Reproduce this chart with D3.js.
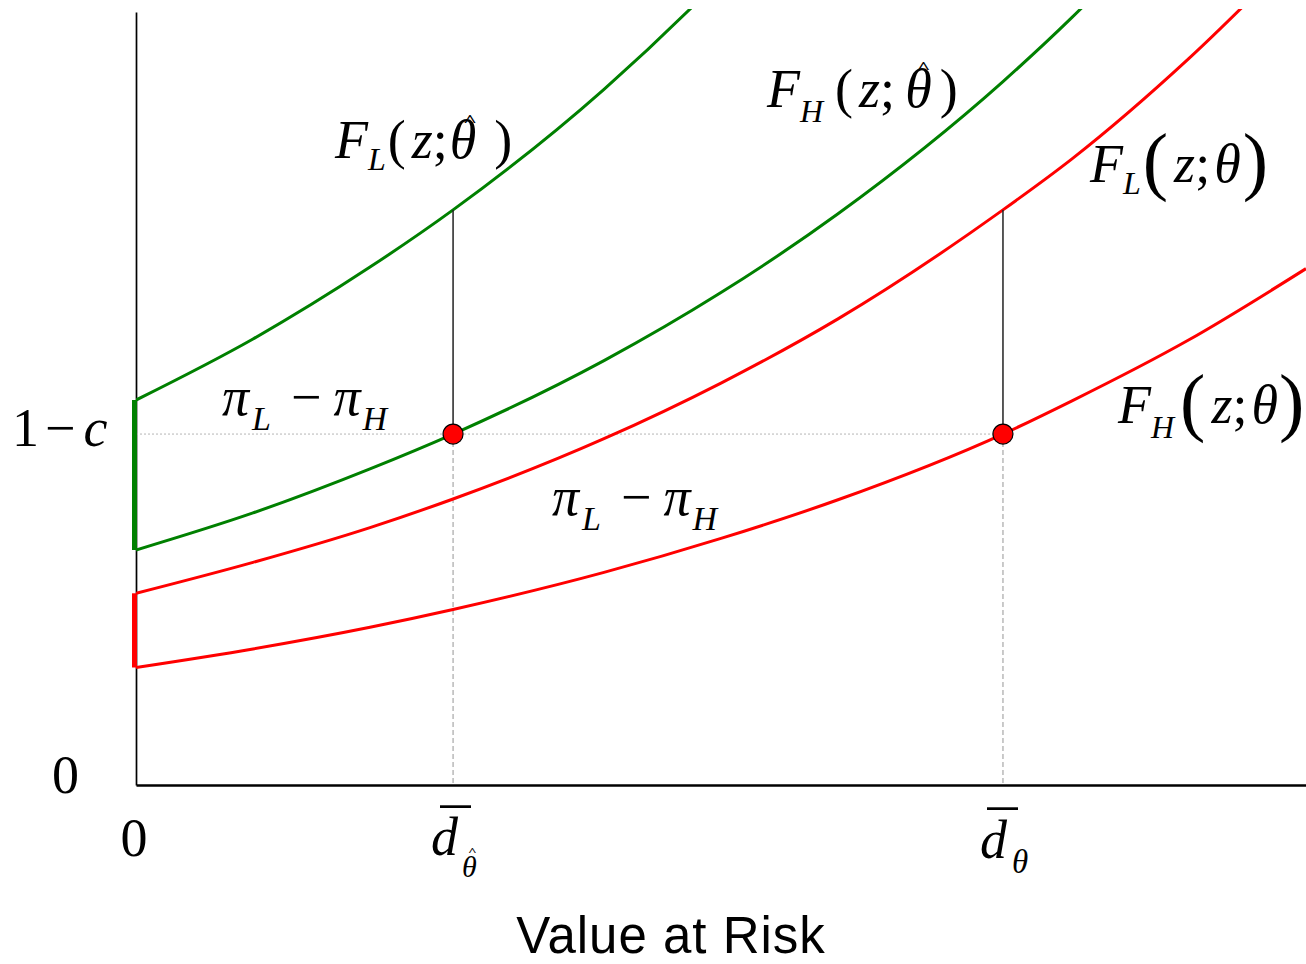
<!DOCTYPE html>
<html>
<head>
<meta charset="utf-8">
<script src="https://cdn.jsdelivr.net/npm/d3@7"></script>
<style>
  html, body { margin: 0; padding: 0; background: #fff; }
  svg { display: block; }
</style>
</head>
<body>
<svg id="chart" width="1306" height="964"></svg>
<script>
// Sample points along the value-at-risk axis (z)
const zSample = [0, 10, 20, 27.1, 40, 50, 60, 74.1, 80, 90, 100];

// Distribution curves (null = beyond the top of the plot)
const FL_hat = [49.8, 57.7, 67.0, 74.4, 90.0, 104.4, 121.0, null, null, null, null];
const FH_hat = [30.4, 35.2, 40.9, 45.4, 54.9, 63.7, 73.9, 91.0, 99.3, 115.2, null];
const FL_theta = [24.8, 28.8, 33.3, 37.0, 44.8, 52.0, 60.3, 74.4, 81.0, 94.0, 108.9];
const FH_theta = [15.2, 17.6, 20.4, 22.7, 27.5, 31.9, 36.9, 45.4, 49.7, 57.6, 66.8];

// Thresholds
const dHat = 27.1;
const dTheta = 74.1;
const oneMinusC = 45.4;

const xTickValues = [0, dHat, dTheta];
const yTickValues = [0, oneMinusC];

const GREEN = "#008000";
const RED = "#ff0000";
const SERIF = "'Liberation Serif', 'Times New Roman', serif";
const SANS = "'Liberation Sans', Arial, sans-serif";

const svg = d3.select("#chart");
const x = d3.scaleLinear().domain([0, 100]).range([136, 1306]);
const y = d3.scaleLinear().domain([0, 100]).range([785, 12]);

svg.append("defs").append("clipPath").attr("id", "plot-clip")
  .append("rect").attr("x", x(0)).attr("y", 9)
  .attr("width", x(100) - x(0)).attr("height", y(0) - 9);

// Axes (lines only)
svg.append("g").attr("transform", `translate(0,${y(0)})`)
  .call(d3.axisBottom(x).tickValues([]).tickSizeOuter(0))
  .call(g => g.select(".domain").attr("stroke", "#000").attr("stroke-width", 2.3));
svg.append("g").attr("transform", `translate(${x(0)},0)`)
  .call(d3.axisLeft(y).tickValues([]).tickSizeOuter(0))
  .call(g => g.select(".domain").attr("stroke", "#000").attr("stroke-width", 1.7));

// Guide lines
svg.append("line")
  .attr("x1", x(0)).attr("x2", x(dTheta))
  .attr("y1", y(oneMinusC)).attr("y2", y(oneMinusC))
  .attr("stroke", "#b5b5b5").attr("stroke-width", 1).attr("stroke-dasharray", "2,2");
svg.selectAll(".vguide").data([dHat, dTheta]).enter().append("line")
  .attr("x1", d => x(d)).attr("x2", d => x(d))
  .attr("y1", y(oneMinusC)).attr("y2", y(0))
  .attr("stroke", "#a8a8a8").attr("stroke-width", 1.2).attr("stroke-dasharray", "5,3");

// Curves
const series = [
  { vals: FL_hat, color: GREEN },
  { vals: FH_hat, color: GREEN },
  { vals: FL_theta, color: RED },
  { vals: FH_theta, color: RED }
];
const line = d3.line()
  .defined(d => d[1] !== null)
  .x(d => x(d[0])).y(d => y(d[1]))
  .curve(d3.curveMonotoneX);
const plot = svg.append("g").attr("clip-path", "url(#plot-clip)");
plot.selectAll(".curve").data(series).enter().append("path")
  .attr("d", s => line(zSample.map((z, i) => [z, s.vals[i]])))
  .attr("fill", "none").attr("stroke", s => s.color).attr("stroke-width", 3);

// Gap between L and H at z = 0
const gaps = [
  { top: FL_hat[0], bottom: FH_hat[0], color: GREEN },
  { top: FL_theta[0], bottom: FH_theta[0], color: RED }
];
svg.selectAll(".gap").data(gaps).enter().append("line")
  .attr("x1", x(0) - 1.5).attr("x2", x(0) - 1.5)
  .attr("y1", d => y(d.top)).attr("y2", d => y(d.bottom))
  .attr("stroke", d => d.color).attr("stroke-width", 5);

// Vertical drops from F_L to the threshold point
const drops = [
  { z: dHat, top: FL_hat[zSample.indexOf(dHat)] },
  { z: dTheta, top: FL_theta[zSample.indexOf(dTheta)] }
];
svg.selectAll(".drop").data(drops).enter().append("line")
  .attr("x1", d => x(d.z)).attr("x2", d => x(d.z))
  .attr("y1", d => y(d.top)).attr("y2", y(oneMinusC))
  .attr("stroke", "#222").attr("stroke-width", 1.5);

// Threshold points
svg.selectAll(".pt").data([dHat, dTheta]).enter().append("circle")
  .attr("cx", d => x(d)).attr("cy", y(oneMinusC)).attr("r", 10)
  .attr("fill", RED).attr("stroke", "#000").attr("stroke-width", 1.2);

// Math-style text: each part placed after the previous one
function mathText(g, x0, y0, parts) {
  let cx = x0;
  parts.forEach(p => {
    cx += (p.dx || 0);
    const size = p.size || 54;
    const by = y0 + (p.dy || 0);
    const t = g.append("text")
      .attr("x", cx).attr("y", by)
      .attr("font-family", SERIF).attr("font-size", size)
      .attr("font-style", p.it ? "italic" : "normal")
      .attr("fill", "#000")
      .text(p.t);
    const w = t.node().getComputedTextLength();
    if (p.hat) {
      g.append("text")
        .attr("transform", `translate(${cx + w / 2 + p.hat.dx},${by + p.hat.dy}) scale(1,0.7)`)
        .attr("text-anchor", "middle")
        .attr("font-family", SERIF).attr("font-weight", "bold")
        .attr("font-size", p.hat.size)
        .text("^");
    }
    if (p.bar) {
      g.append("text")
        .attr("x", cx + w / 2 + p.bar.dx)
        .attr("y", by + p.bar.dy)
        .attr("text-anchor", "middle")
        .attr("font-family", SERIF).attr("font-size", p.bar.size)
        .text("\u00AF");
    }
    cx += w;
  });
}

const labels = svg.append("g");

// Curve labels
mathText(labels, 335, 158, [
  { t: "F", it: 1 }, { t: "L", it: 1, size: 32, dy: 12 },
  { t: "(", dx: 2 }, { t: "z", it: 1, dx: 6 }, { t: ";" },
  { t: "\u03B8", it: 1, dx: 2, hat: { dx: 7, dy: -32, size: 24 } }, { t: ")", dx: 18 }
]);
mathText(labels, 767, 107, [
  { t: "F", it: 1 }, { t: "H", it: 1, size: 32, dy: 15 },
  { t: "(", dx: 12 }, { t: "z", it: 1, dx: 6 }, { t: ";" },
  { t: "\u03B8", it: 1, dx: 10, hat: { dx: 5, dy: -34, size: 24 } }, { t: ")", dx: 8 }
]);
mathText(labels, 1090, 182, [
  { t: "F", it: 1 }, { t: "L", it: 1, size: 32, dy: 12 },
  { t: "(", size: 76, dx: 2, dy: 4 }, { t: "z", it: 1, dx: 6 }, { t: ";" },
  { t: "\u03B8", it: 1, dx: 4 }, { t: ")", size: 76, dx: 2, dy: 4 }
]);
mathText(labels, 1118, 423, [
  { t: "F", it: 1 }, { t: "H", it: 1, size: 32, dy: 15 },
  { t: "(", size: 76, dx: 6, dy: 4 }, { t: "z", it: 1, dx: 6 }, { t: ";" },
  { t: "\u03B8", it: 1, dx: 4 }, { t: ")", size: 76, dx: 1, dy: 4 }
]);

// Gap labels
const piParts = [
  { t: "\u03C0", it: 1 }, { t: "L", it: 1, size: 34, dy: 15, dx: 3 },
  { t: "\u2212", dx: 20 }, { t: "\u03C0", it: 1, dx: 12 },
  { t: "H", it: 1, size: 34, dy: 15, dx: 2 }
];
mathText(labels, 222, 415, piParts);
mathText(labels, 552, 515, piParts);

// Y tick labels
labels.append("text")
  .attr("x", 79).attr("y", y(yTickValues[0]) + 8)
  .attr("text-anchor", "end")
  .attr("font-family", SERIF).attr("font-size", 54).text("0");
mathText(labels, 12, y(yTickValues[1]) + 12, [
  { t: "1" }, { t: "\u2212", dx: 6 }, { t: "c", it: 1, dx: 8 }
]);

// X tick labels
labels.append("text")
  .attr("x", x(xTickValues[0]) - 2).attr("y", 856)
  .attr("text-anchor", "middle")
  .attr("font-family", SERIF).attr("font-size", 54).text("0");
mathText(labels, x(xTickValues[1]) - 22, 855, [
  { t: "d", it: 1, bar: { dx: 11, dy: -5, size: 60 } },
  { t: "\u03B8", it: 1, size: 30, dy: 22, dx: 4, hat: { dx: 3, dy: -22, size: 15 } }
]);
mathText(labels, x(xTickValues[2]) - 23, 858, [
  { t: "d", it: 1, bar: { dx: 9, dy: -6, size: 60 } },
  { t: "\u03B8", it: 1, size: 33, dy: 15, dx: 5 }
]);

// Axis title
svg.append("text")
  .attr("x", 671).attr("y", 953)
  .attr("text-anchor", "middle")
  .attr("font-family", SANS).attr("font-size", 51)
  .attr("letter-spacing", 1)
  .text("Value at Risk");
</script>
</body>
</html>
